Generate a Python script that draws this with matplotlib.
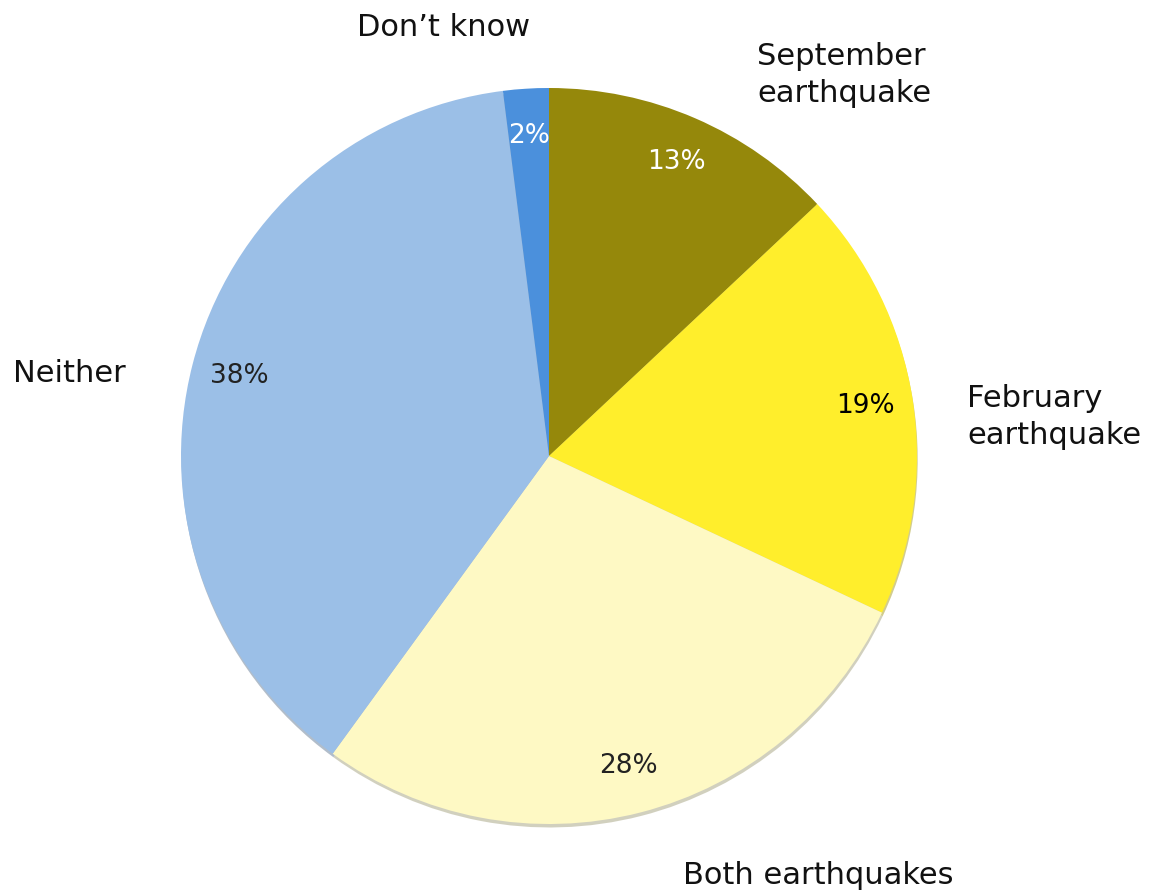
import matplotlib
matplotlib.use("Agg")
import matplotlib.pyplot as plt

categories = ["September\nearthquake", "February\nearthquake", "Both earthquakes", "Neither", "Don\u2019t know"]
shares = [13, 19, 28, 38, 2]
colors = ["#95880B", "#FFEE2C", "#FEF9C4", "#9BBFE7", "#4B90DC"]
pct_colors = ["white", "black", "#222222", "#222222", "white"]

W, H = 1151, 893
fig = plt.figure(figsize=(W / 100, H / 100), dpi=100)
ax = fig.add_axes([0, 0, 1, 1])

cx, cy, R = 549, H - 456, 368
wedges, _, pcts = ax.pie(
    shares, colors=colors, startangle=90, counterclock=False,
    center=(cx, cy), radius=R, autopct="%d%%", pctdistance=0.87,
    wedgeprops=dict(linewidth=0),
    shadow=dict(ox=0.5, oy=-2.5, shade=0.35),
    textprops=dict(fontsize=19, family="DejaVu Sans"),
)
for t, c in zip(pcts, pct_colors):
    t.set_color(c)

ax.set_xlim(0, W)
ax.set_ylim(0, H)
ax.set_aspect("equal")
ax.axis("off")

label_pos = [
    (757, H - 75, "left"),
    (967, H - 417, "left"),
    (683, H - 876, "left"),
    (13, H - 373, "left"),
    (357, H - 28, "left"),
]
for name, (x, y, ha) in zip(categories, label_pos):
    ax.text(x, y, name, ha=ha, va="center", fontsize=22,
            family="DejaVu Sans", color="#111111", linespacing=1.38)

fig.savefig("out.png", dpi=100)
